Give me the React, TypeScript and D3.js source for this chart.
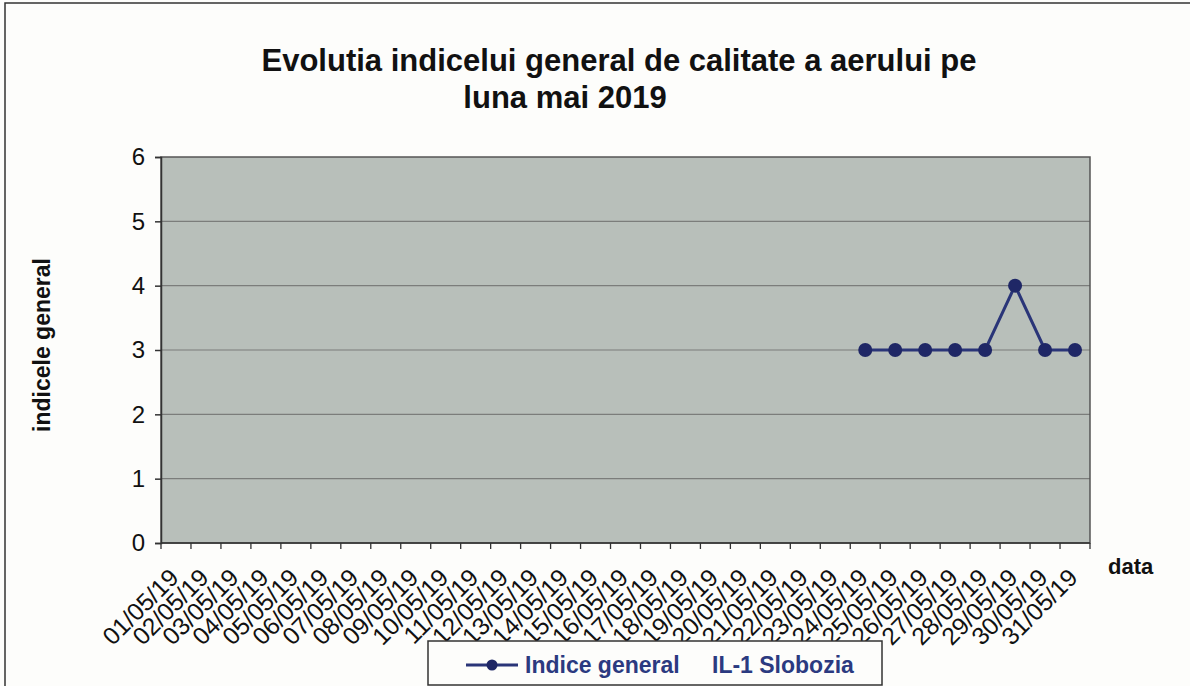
import React from "react";
import { useRef, useEffect } from "react";
import * as d3 from "d3";

// dates of May 2019, as shown on the x axis
const dates = [
  "01/05/19", "02/05/19", "03/05/19", "04/05/19", "05/05/19", "06/05/19",
  "07/05/19", "08/05/19", "09/05/19", "10/05/19", "11/05/19", "12/05/19",
  "13/05/19", "14/05/19", "15/05/19", "16/05/19", "17/05/19", "18/05/19",
  "19/05/19", "20/05/19", "21/05/19", "22/05/19", "23/05/19", "24/05/19",
  "25/05/19", "26/05/19", "27/05/19", "28/05/19", "29/05/19", "30/05/19",
  "31/05/19",
];

// general air quality index, IL-1 Slobozia (no data before 24/05)
const indice: (number | null)[] = [
  null, null, null, null, null, null, null, null, null, null, null, null,
  null, null, null, null, null, null, null, null, null, null, null,
  3, 3, 3, 3, 3, 4, 3, 3,
];

const yTicks = [0, 1, 2, 3, 4, 5, 6];

const App = () => {
  const ref = useRef<SVGSVGElement>(null);

  useEffect(() => {
    const width = 1190,
      height = 686;
    const margin = { top: 157, right: 100, bottom: 143, left: 161 };

    const svg = d3.select(ref.current);
    svg.selectAll("*").remove();

    const font = "Arial, 'Liberation Sans', sans-serif";
    const navy = "#1f2766";

    // outer frame
    svg
      .append("rect")
      .attr("x", 5)
      .attr("y", 3)
      .attr("width", 1200)
      .attr("height", 700)
      .attr("fill", "#fdfdfb")
      .attr("stroke", "#333")
      .attr("stroke-width", 1.5);

    // title
    svg
      .append("text")
      .attr("x", 619)
      .attr("y", 71)
      .attr("text-anchor", "middle")
      .style("font", `bold 31px ${font}`)
      .attr("fill", "#111")
      .text("Evolutia indicelui general de calitate a aerului pe");
    svg
      .append("text")
      .attr("x", 565)
      .attr("y", 108)
      .attr("text-anchor", "middle")
      .style("font", `bold 31px ${font}`)
      .attr("fill", "#111")
      .text("luna mai 2019");

    const innerW = width - margin.left - margin.right;
    const innerH = height - margin.top - margin.bottom;

    const g = svg
      .append("g")
      .attr("transform", `translate(${margin.left},${margin.top})`);

    const x = d3.scaleBand().domain(dates).range([0, innerW]).padding(0);
    const y = d3.scaleLinear().domain([0, 6]).range([innerH, 0]);

    // plot area
    g.append("rect")
      .attr("width", innerW)
      .attr("height", innerH)
      .attr("fill", "#b8bfba");

    // gridlines
    g.selectAll("line.grid")
      .data(yTicks.filter((t) => t > 0 && t < 6))
      .enter()
      .append("line")
      .attr("x1", 0)
      .attr("x2", innerW)
      .attr("y1", (d) => y(d))
      .attr("y2", (d) => y(d))
      .attr("stroke", "#7b7d7b")
      .attr("stroke-width", 1.2);

    g.append("rect")
      .attr("width", innerW)
      .attr("height", innerH)
      .attr("fill", "none")
      .attr("stroke", "#555")
      .attr("stroke-width", 1.5);

    // y axis
    const yAxis = g
      .append("g")
      .call(
        d3
          .axisLeft(y)
          .tickValues(yTicks)
          .tickFormat(d3.format("d"))
          .tickSize(6)
          .tickPadding(10)
      );
    yAxis.select(".domain").attr("stroke", "#333").attr("stroke-width", 1.5);
    yAxis.selectAll(".tick line").attr("stroke", "#333").attr("stroke-width", 1.5);
    yAxis
      .selectAll(".tick text")
      .style("font", `24px ${font}`)
      .attr("fill", "#111");

    // x axis: ticks on band boundaries
    const xAxis = g.append("g").attr("transform", `translate(0,${innerH})`);
    xAxis
      .append("line")
      .attr("x1", 0)
      .attr("x2", innerW)
      .attr("stroke", "#333")
      .attr("stroke-width", 1.5);
    xAxis
      .selectAll("line.tick")
      .data(dates.concat(["end"]))
      .enter()
      .append("line")
      .attr("x1", (d, i) => (i < dates.length ? x(d)! : innerW))
      .attr("x2", (d, i) => (i < dates.length ? x(d)! : innerW))
      .attr("y1", 0)
      .attr("y2", 6)
      .attr("stroke", "#333")
      .attr("stroke-width", 1.3);
    xAxis
      .selectAll("text.lab")
      .data(dates)
      .enter()
      .append("text")
      .attr(
        "transform",
        (d) => `translate(${x(d)! + x.bandwidth() / 2 - 8},${24})rotate(-45)`
      )
      .attr("text-anchor", "end")
      .attr("dy", "0.7em")
      .style("font", `24.5px ${font}`)
      .attr("fill", "#111")
      .text((d) => d);

    // axis titles
    svg
      .append("text")
      .attr("transform", `translate(50,${margin.top + innerH / 2 - 5})rotate(-90)`)
      .attr("text-anchor", "middle")
      .style("font", `bold 23px ${font}`)
      .attr("fill", "#111")
      .text("indicele general");
    svg
      .append("text")
      .attr("x", 1108)
      .attr("y", 574)
      .style("font", `bold 22px ${font}`)
      .attr("fill", "#111")
      .text("data");

    // series
    const pts = dates
      .map((d, i) => ({ d, v: indice[i] }))
      .filter((p) => p.v !== null) as { d: string; v: number }[];
    const line = d3
      .line<{ d: string; v: number }>()
      .x((p) => x(p.d)! + x.bandwidth() / 2)
      .y((p) => y(p.v));
    g.append("path")
      .datum(pts)
      .attr("d", line)
      .attr("fill", "none")
      .attr("stroke", "#2a3578")
      .attr("stroke-width", 3);
    g.selectAll("circle.pt")
      .data(pts)
      .enter()
      .append("circle")
      .attr("cx", (p) => x(p.d)! + x.bandwidth() / 2)
      .attr("cy", (p) => y(p.v))
      .attr("r", 7)
      .attr("fill", navy);

    // legend
    const lg = svg.append("g").attr("transform", "translate(428,641)");
    lg.append("rect")
      .attr("width", 454)
      .attr("height", 44)
      .attr("fill", "#fdfdfb")
      .attr("stroke", "#333")
      .attr("stroke-width", 1.5);
    lg.append("line")
      .attr("x1", 38)
      .attr("x2", 90)
      .attr("y1", 24)
      .attr("y2", 24)
      .attr("stroke", "#2a3578")
      .attr("stroke-width", 3);
    lg.append("circle").attr("cx", 64).attr("cy", 24).attr("r", 5.5).attr("fill", navy);
    lg.append("text")
      .attr("x", 97)
      .attr("y", 32)
      .style("font", `bold 23px ${font}`)
      .attr("fill", "#2b3a80")
      .text("Indice general");
    lg.append("text")
      .attr("x", 284)
      .attr("y", 32)
      .style("font", `bold 23px ${font}`)
      .attr("fill", "#2b3a80")
      .text("IL-1 Slobozia");
  }, []);

  return (
    <svg
      ref={ref}
      width={1190}
      height={686}
      style={{ position: "absolute", left: 0, top: 0, background: "#fdfdfb" }}
    ></svg>
  );
};

export default App;
